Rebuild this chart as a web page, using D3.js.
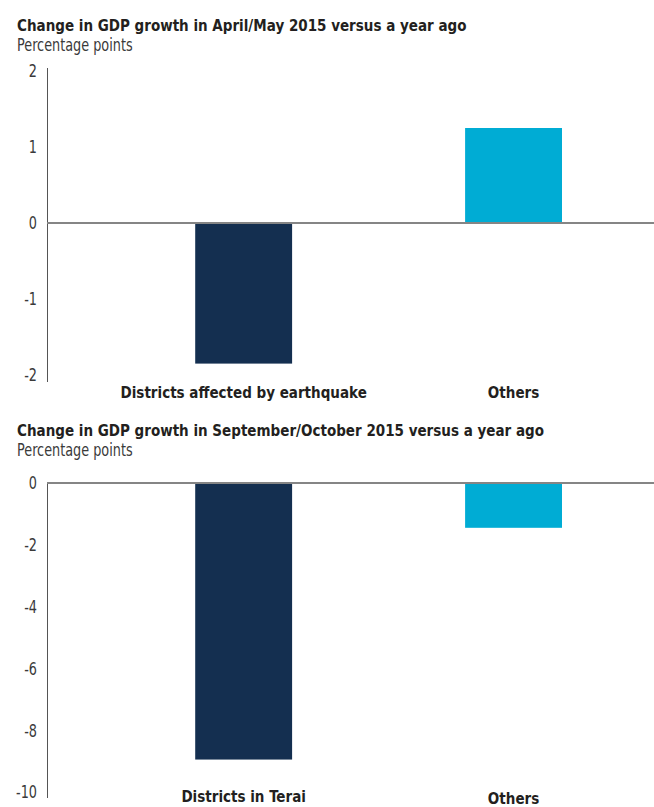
<!DOCTYPE html>
<html>
<head>
<meta charset="utf-8">
<script src="https://cdn.jsdelivr.net/npm/d3@7"></script>
<style>
  html, body { margin: 0; padding: 0; background: #fff; }
  svg { display: block; }
  .title { font-family: "Liberation Sans Narrow", "DejaVu Sans Condensed", Roboto, sans-serif; font-weight: bold; fill: #231f20; }
  .sub { font-family: "Liberation Sans Narrow", "DejaVu Sans Condensed", Roboto, sans-serif; fill: #3a3a3a; }
  .tick-label { font-family: "Liberation Sans Narrow", "DejaVu Sans Condensed", Roboto, sans-serif; fill: #3a3a3a; }
  .cat-label { font-family: "Liberation Sans Narrow", "DejaVu Sans Condensed", Roboto, sans-serif; font-weight: bold; fill: #231f20; }
</style>
</head>
<body>
<script>
// Panel 1: April/May 2015
const quakeCategories = ["Districts affected by earthquake", "Others"];
const quakeValues = [-1.85, 1.25];
const quakeTicks = [2, 1, 0, -1, -2];

// Panel 2: September/October 2015
const teraiCategories = ["Districts in Terai", "Others"];
const teraiValues = [-8.95, -1.45];
const teraiTicks = [0, -2, -4, -6, -8, -10];

const barColors = ["#142f50", "#00acd4"];

const W = 654, H = 807;
const SX_BOLD = 0.91;  // horizontal squeeze for condensed bold text
const SX_LIGHT = 0.84; // tighter squeeze for the light, taller text
const svg = d3.select("body").append("svg").attr("width", W).attr("height", H);

function squeezedText(parent, cls, x, y, size, str, sx, anchor) {
  return parent.append("text").attr("class", cls)
    .attr("transform", `translate(${x},${y}) scale(${sx},1)`)
    .attr("text-anchor", anchor || "start")
    .attr("font-size", size)
    .text(str);
}

function panel(cfg) {
  const g = svg.append("g");
  squeezedText(g, "title", 17, cfg.titleY, 16.5, cfg.title, SX_BOLD);
  squeezedText(g, "sub", 17, cfg.titleY + 20, 17, "Percentage points", SX_LIGHT);

  const y = d3.scaleLinear().domain(cfg.domain).range(cfg.range);
  const x = d3.scaleBand().domain(cfg.categories).range([47, 654])
    .paddingInner(0.641).paddingOuter(0.445).align(0.617);

  // y axis: labels only, with a custom vertical rule
  const axis = d3.axisLeft(y).tickValues(cfg.ticks).tickSize(0).tickPadding(10)
    .tickFormat(d => String(d));
  const ax = g.append("g").attr("transform", "translate(47,0)").call(axis);
  ax.select(".domain").remove();
  ax.selectAll(".tick text").attr("class", "tick-label")
    .attr("font-size", 17).attr("dy", "0.35em")
    .attr("font-family", null).attr("fill", null)
    .attr("transform", `scale(${SX_LIGHT},1)`)
    .attr("x", -10 / SX_LIGHT);

  g.append("line")
    .attr("x1", 47.5).attr("x2", 47.5)
    .attr("y1", y(cfg.domain[1]) - cfg.axisTopExtra)
    .attr("y2", y(cfg.domain[0]) + cfg.axisBottomExtra)
    .attr("stroke", "#555").attr("stroke-width", 1);

  g.selectAll("rect.bar").data(cfg.values).join("rect")
    .attr("class", "bar")
    .attr("x", (d, i) => x(cfg.categories[i]))
    .attr("width", x.bandwidth())
    .attr("y", d => Math.min(y(d), y(0)))
    .attr("height", d => Math.abs(y(d) - y(0)))
    .attr("fill", (d, i) => barColors[i]);

  // zero baseline
  g.append("line")
    .attr("x1", 47).attr("x2", W)
    .attr("y1", y(0)).attr("y2", y(0))
    .attr("stroke", "#858585").attr("stroke-width", 2);

  cfg.categories.forEach((c, i) => {
    squeezedText(g, "cat-label", x(c) + x.bandwidth() / 2, cfg.labelY[i], 16.5, c, SX_BOLD, "middle");
  });
}

panel({
  title: "Change in GDP growth in April/May 2015 versus a year ago",
  titleY: 31,
  domain: [-2, 2], range: [375, 71],
  ticks: quakeTicks, categories: quakeCategories, values: quakeValues,
  axisTopExtra: 3, axisBottomExtra: 7,
  labelY: [398, 398]
});

panel({
  title: "Change in GDP growth in September/October 2015 versus a year ago",
  titleY: 436,
  domain: [-10, 0], range: [792, 483],
  ticks: teraiTicks, categories: teraiCategories, values: teraiValues,
  axisTopExtra: 0, axisBottomExtra: 6,
  labelY: [802, 804]
});
</script>
</body>
</html>
